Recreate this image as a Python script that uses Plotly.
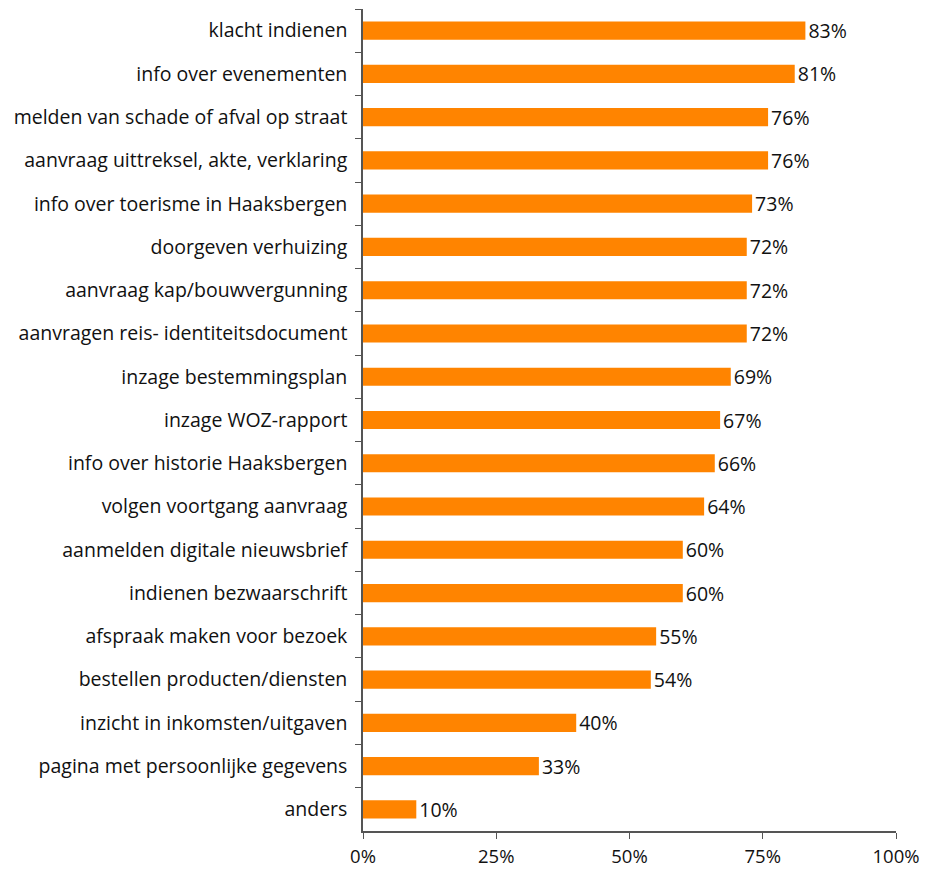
import plotly.graph_objects as go

categories = [
    "klacht indienen",
    "info over evenementen",
    "melden van schade of afval op straat",
    "aanvraag uittreksel, akte, verklaring",
    "info over toerisme in Haaksbergen",
    "doorgeven verhuizing",
    "aanvraag kap/bouwvergunning",
    "aanvragen reis- identiteitsdocument",
    "inzage bestemmingsplan",
    "inzage WOZ-rapport",
    "info over historie Haaksbergen",
    "volgen voortgang aanvraag",
    "aanmelden digitale nieuwsbrief",
    "indienen bezwaarschrift",
    "afspraak maken voor bezoek",
    "bestellen producten/diensten",
    "inzicht in inkomsten/uitgaven",
    "pagina met persoonlijke gegevens",
    "anders",
]
values = [83, 81, 76, 76, 73, 72, 72, 72, 69, 67, 66, 64, 60, 60, 55, 54, 40, 33, 10]
x_ticks = [0, 25, 50, 75, 100]
x_tick_labels = ["0%", "25%", "50%", "75%", "100%"]

FONT = "Open Sans"
FS = 19.5

fig = go.Figure(go.Bar(
    x=[v / 100 for v in values],
    y=categories,
    orientation="h",
    marker=dict(color="#FF8400", line=dict(width=0)),
    text=[f"{v}%" for v in values],
    textposition="outside",
    constraintext="none",
    textfont=dict(color="#111111", size=FS, family=FONT),
    cliponaxis=False,
    width=0.42,
))

fig.update_layout(
    width=928, height=872,
    margin=dict(l=355, r=40, t=1, b=49),
    plot_bgcolor="white", paper_bgcolor="white",
    font=dict(family=FONT, size=FS, color="#111111"),
    showlegend=False,
    xaxis=dict(
        range=[0, 1],
        tickvals=[t / 100 for t in x_ticks],
        ticktext=x_tick_labels,
        tickfont=dict(size=18.5),
        showgrid=False, zeroline=False,
        showline=True, linecolor="#555555", linewidth=1.5,
        ticks="outside", ticklen=6, tickcolor="#555555",
        ticklabelstandoff=2,
    ),
    yaxis=dict(
        autorange="reversed",
        showgrid=False, zeroline=False,
        showline=True, linecolor="#555555", linewidth=1.5,
        ticks="outside", ticklen=6, tickcolor="#555555",
        tickson="boundaries",
        ticklabelstandoff=10,
    ),
)

fig.write_html("out.html")
